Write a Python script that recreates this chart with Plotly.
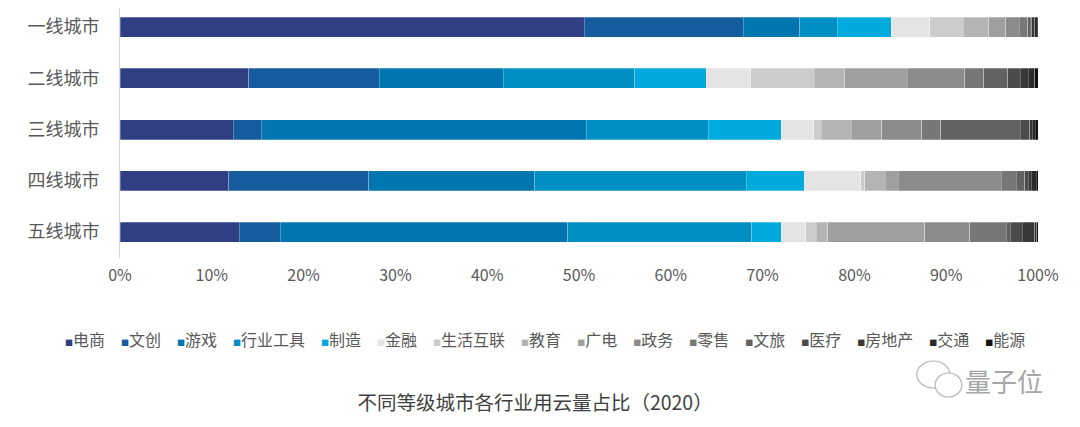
import plotly.graph_objects as go

# categories (top to bottom) and industries (stack order, left to right)
cities = ["一线城市", "二线城市", "三线城市", "四线城市", "五线城市"]
industries = ["电商", "文创", "游戏", "行业工具", "制造", "金融", "生活互联", "教育",
              "广电", "政务", "零售", "文旅", "医疗", "房地产", "交通", "能源"]

# share of cloud usage per industry, %
tier1 = [50.58, 17.32, 6.17, 4.07, 5.85, 4.21, 3.63, 2.83, 1.85, 1.45, 0.92, 0.25, 0.18, 0.36, 0.25, 0.08]
tier2 = [14.02, 14.23, 13.51, 14.34, 7.81, 4.83, 6.89, 3.35, 6.79, 6.28, 2.07, 2.65, 1.35, 0.83, 0.73, 0.36]
tier3 = [12.35, 3.05, 35.37, 13.29, 7.95, 3.57, 0.80, 3.27, 3.34, 4.36, 2.07, 8.64, 1.03, 0.30, 0.30, 0.30]
tier4 = [11.84, 15.25, 18.12, 23.05, 6.32, 6.14, 0.43, 2.26, 1.37, 11.26, 1.63, 0.91, 0.36, 0.37, 0.54, 0.18]
tier5 = [13.00, 4.46, 31.31, 20.08, 3.19, 2.69, 1.16, 1.23, 10.57, 4.90, 4.00, 0.44, 1.31, 1.34, 0.25, 0.11]

x_ticks = [0, 10, 20, 30, 40, 50, 60, 70, 80, 90, 100]

colors = ["#303f84", "#145c9b", "#0075b0", "#008fc2", "#00aadc", "#e4e4e4", "#cccccc", "#b4b4b4",
          "#9f9f9f", "#8b8b8b", "#777777", "#626262", "#4b4b4b", "#383838", "#2a2a2a", "#111111"]

FONT = "Noto Sans CJK SC, Noto Sans, sans-serif"
rows = [tier1, tier2, tier3, tier4, tier5]

fig = go.Figure()
for i, name in enumerate(industries):
    fig.add_trace(go.Bar(
        name=name,
        y=cities,
        x=[r[i] for r in rows],
        orientation="h",
        marker=dict(color=colors[i], line=dict(width=0.6, color="rgba(255,255,255,0.45)")),
        hovertemplate="%{y} " + name + ": %{x:.1f}%<extra></extra>",
    ))

# legend as one centered line of text (plotly's own legend is too wide here)
legend_bits = []
for name, c in zip(industries, colors):
    legend_bits.append(f'<span style="font-size:8px;color:{c}">■</span>{name}')
legend_text = "\u2003".join(legend_bits)

# little wechat-style bubbles next to the watermark
icon = [
    dict(type="circle", xref="paper", yref="paper", x0=0.868, x1=0.904, y0=-0.52, y1=-0.412,
         line=dict(color="#b5b5b5", width=1.2), fillcolor="white", layer="above"),
    dict(type="circle", xref="paper", yref="paper", x0=0.888, x1=0.917, y0=-0.556, y1=-0.46,
         line=dict(color="#b5b5b5", width=1.2), fillcolor="white", layer="above"),
]

fig.update_layout(
    barmode="stack",
    barnorm="percent",
    bargap=0.61,
    showlegend=False,
    width=1080,
    height=427,
    margin=dict(l=112, r=50, t=0, b=177),
    paper_bgcolor="white",
    plot_bgcolor="white",
    font=dict(family=FONT, size=16, color="#595959"),
    title=dict(
        text="不同等级城市各行业用云量占比（2020）",
        x=0.488, xanchor="center", y=0.075, yanchor="middle",
        font=dict(family=FONT, size=19.5, color="#404040"),
    ),
    xaxis=dict(
        range=[0, 100],
        tickvals=x_ticks,
        ticktext=[f"{v}%" for v in x_ticks],
        showgrid=False,
        zeroline=False,
        showline=False,
        ticks="outside",
        ticklen=3,
        tickcolor="rgba(0,0,0,0)",
        tickfont=dict(size=16, color="#595959"),
    ),
    yaxis=dict(
        categoryorder="array",
        categoryarray=cities,
        range=[4.507, -0.371],
        showgrid=False,
        showline=True,
        linecolor="#d9d9d9",
        linewidth=1,
        ticks="outside",
        ticklen=16,
        tickcolor="rgba(0,0,0,0)",
        tickfont=dict(size=18, color="#595959"),
    ),
    shapes=icon,
    annotations=[
        dict(
            text=legend_text, xref="paper", yref="paper", x=0.463, y=-0.322,
            xanchor="center", yanchor="middle", showarrow=False,
            font=dict(family=FONT, size=16, color="#595959"),
        ),
        dict(
            text="量子位", xref="paper", yref="paper", x=1.0076, y=-0.488,
            xanchor="right", yanchor="middle", showarrow=False,
            font=dict(family=FONT, size=26, color="#a6a6a6"),
        ),
    ],
)

fig.write_html("out.html")
